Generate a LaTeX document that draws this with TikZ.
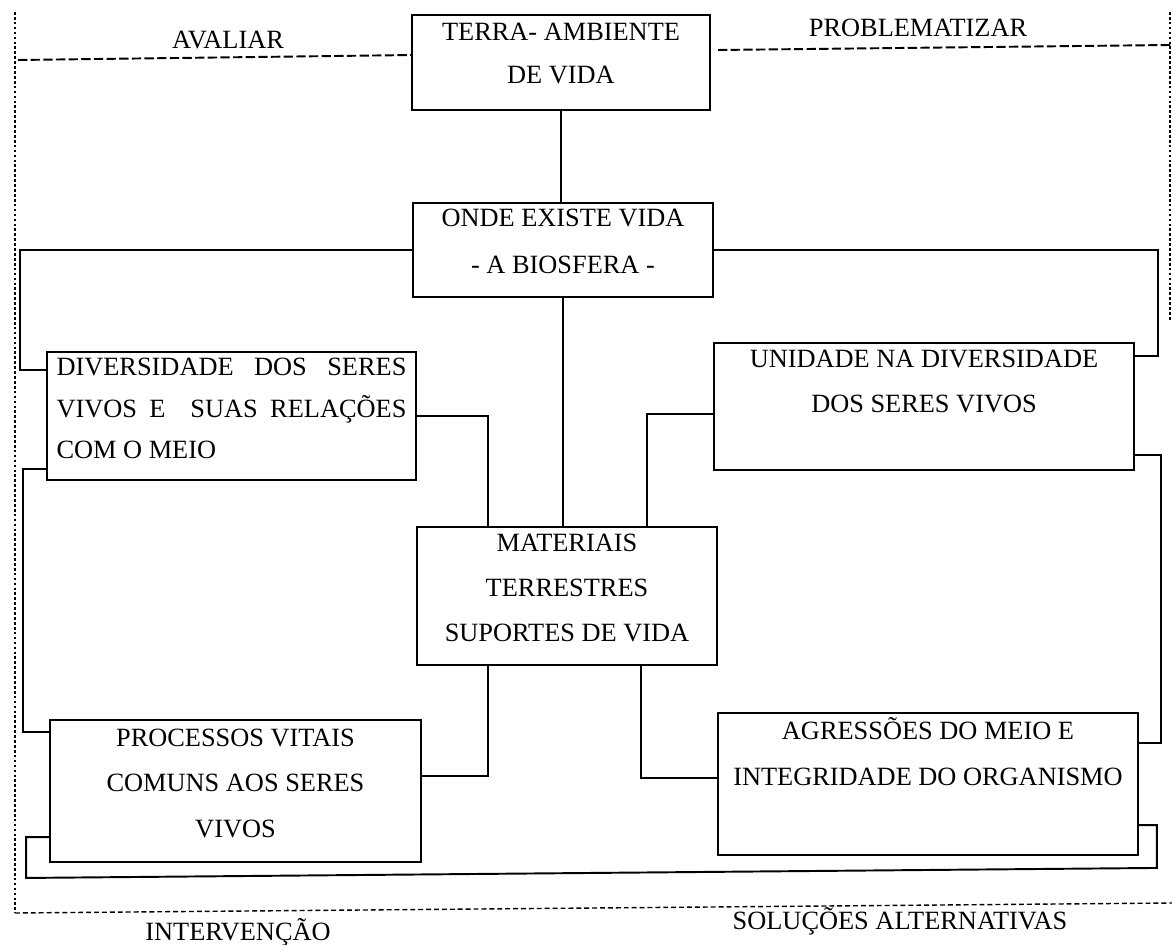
\documentclass[tikz,border=0pt]{standalone}
\usepackage{fontspec}
\setmainfont{Liberation Serif}
\usetikzlibrary{calc}
\begin{document}
\begin{tikzpicture}[x=0.02cm,y=-0.02cm,
  box/.style={draw, line width=1.1pt, inner sep=0pt, rectangle},
  conn/.style={line width=1.1pt},
  btext/.style={anchor=north, inner sep=0pt, align=center, font=\fontsize{15}{25.5}\selectfont},
  lab/.style={inner sep=0pt, font=\fontsize{15}{18}\selectfont},
  dotline/.style={line width=1pt, dash pattern=on 1.5pt off 1.3pt},
  topdash/.style={line width=1.1pt, dash pattern=on 5.3pt off 1.9pt},
  botdash/.style={line width=0.8pt, dash pattern=on 2.8pt off 1.7pt}]
\useasboundingbox (0,0) rectangle (1172,945);

% boxes
\node[box, minimum width=5.96cm, minimum height=1.90cm] (terra) at (561,62.5) {};
\node[box, minimum width=6.00cm, minimum height=1.88cm] (onde) at (563,250) {};
\node[box, minimum width=7.38cm, minimum height=2.56cm] (div) at (231.5,416) {};
\node[box, minimum width=8.40cm, minimum height=2.54cm] (uni) at (924,406.5) {};
\node[box, minimum width=6.00cm, minimum height=2.76cm] (mat) at (567,596) {};
\node[box, minimum width=7.42cm, minimum height=2.84cm] (proc) at (235.5,791) {};
\node[box, minimum width=8.40cm, minimum height=2.84cm] (agr) at (928,784) {};

% box texts
\node[btext, font=\fontsize{15}{24}\selectfont] (terraT) at ($(terra.north)+(0,2)$) {\rule{0pt}{14pt}TERRA- AMBIENTE\\DE VIDA};
\node[btext, font=\fontsize{15}{26.4}\selectfont] (ondeT) at (onde.north) {\rule{0pt}{14pt}ONDE EXISTE VIDA\\- A BIOSFERA -};
\node[btext, align=justify, text width=7cm, font=\fontsize{15}{23.5}\selectfont] (divT) at (div.north) {\noindent\rule{0pt}{14pt}DIVERSIDADE DOS SERES\linebreak VIVOS E\ \ SUAS RELAÇÕES\linebreak COM O MEIO};
\node[btext] (uniT) at ($(uni.north)+(0,1)$) {\rule{0pt}{14pt}UNIDADE NA DIVERSIDADE\\DOS SERES VIVOS};
\node[btext, font=\fontsize{15}{25.8}\selectfont] (matT) at (mat.north) {\rule{0pt}{14pt}MATERIAIS\\TERRESTRES\\SUPORTES DE VIDA};
\node[btext, font=\fontsize{15}{26.1}\selectfont] (procT) at ($(proc.north)+(0,2)$) {\rule{0pt}{14pt}PROCESSOS VITAIS\\COMUNS AOS SERES\\VIVOS};
\node[btext, font=\fontsize{15}{26.6}\selectfont] (agrT) at ($(agr.north)+(0,2)$) {\rule{0pt}{14pt}AGRESSÕES DO MEIO E\\INTEGRIDADE DO ORGANISMO};

% connectors
\draw[conn] (terra.south) -- (terra.south |- onde.north);
\draw[conn] (onde.south) -- (onde.south |- mat.north);
\draw[conn] (onde.west) -| ($(div.north west)+(-26,19)$) -- ($(div.north west)+(0,19)$);
\draw[conn] (div.east) -| ($(mat.north west)+(72,0)$);
\draw[conn] ($(div.south west)+(0,-12)$) -| ($(proc.north west)+(-26,13)$) -- ($(proc.north west)+(0,13)$);
\draw[conn] ($(mat.north west)+(231,0)$) |- ($(uni.north west)+(0,72)$);
\draw[conn] (onde.east) -| ($(uni.north east)+(23,14)$) -- ($(uni.north east)+(0,14)$);
\draw[conn] ($(uni.south east)+(0,-16)$) -| ($(agr.north east)+(22,31)$) -- ($(agr.north east)+(0,31)$);
\draw[conn] ($(mat.south west)+(72,0)$) |- ($(proc.north east)+(0,57)$);
\draw[conn] ($(mat.south west)+(225,0)$) |- ($(agr.north west)+(0,66)$);
\draw[conn] ($(agr.north east)+(0,113)$) -- ($(agr.north east)+(18,113)$) -- ($(agr.south east)+(18,12)$) -- ($(proc.south west)+(-23,15)$) -- ($(proc.north west)+(-23,118)$) -- ($(proc.north west)+(0,118)$);

% frame
\coordinate (ftl) at (15,12);
\coordinate (fbl) at (15,913);
\coordinate (fbr) at (1172,903);
\coordinate (ftr) at (1170,12);
\coordinate (ftr2) at (1170,320);
\coordinate (dl) at (18,60);
\coordinate (dr1) at (718,50);
\coordinate (dr2) at (1170,45);
\draw[dotline] (ftl) -- (fbl);
\draw[dotline] (ftr) -- (ftr2);
\draw[botdash] (fbl) -- (fbr);
\draw[topdash] (dl) -- ($(terra.north west)+(0,41)$);
\draw[topdash] (dr1) -- (dr2);

% labels
\node[lab, anchor=base] (avaliar) at (228,49) {AVALIAR};
\node[lab, anchor=base] (probl) at (918,37) {PROBLEMATIZAR};
\node[lab, anchor=base] (interv) at (238,940) {INTERVENÇÃO};
\node[lab, anchor=base] (solucoes) at (900,929) {SOLUÇÕES ALTERNATIVAS};
\end{tikzpicture}
\end{document}
